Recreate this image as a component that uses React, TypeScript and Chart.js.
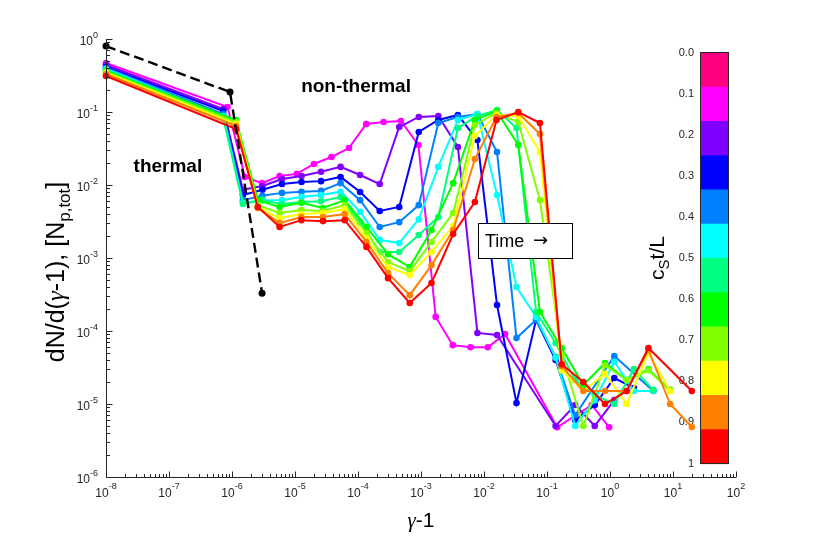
import { useEffect, useRef } from "react";
import { Chart, registerables } from "chart.js";

Chart.register(...registerables);

const SANS = '"Liberation Sans", Arial, Helvetica, sans-serif';
const SERIF = '"Liberation Serif", "Times New Roman", serif';
const INK = "#262626";

// gamma-1 bins: the first snapshot, the middle ones and the late ones use different binnings
const gammaBinsEarly = [1e-8, 8.5e-7, 1.6e-6, 3.0e-6, 5.7e-6, 1.07e-5, 2.0e-5, 3.8e-5, 7.2e-5, 1.35e-4, 2.55e-4, 4.8e-4, 9.1e-4, 1.71e-3, 3.2e-3, 6.1e-3, 1.15e-2, 2.16e-2, 4.1e-2, 7.7e-2, 0.145, 0.273, 0.514, 0.97];
const gammaBinsMid = [1e-8, 7.27e-7, 1.49e-6, 3.04e-6, 6.21e-6, 1.27e-5, 2.59e-5, 5.29e-5, 1.08e-4, 2.21e-4, 4.51e-4, 9.22e-4, 1.88e-3, 3.85e-3, 7.86e-3, 1.61e-2, 3.28e-2, 6.71e-2, 0.137, 0.28, 0.572, 1.17, 2.39, 4.88];
const gammaBinsLate = [1e-8, 1.16e-6, 2.57e-6, 5.69e-6, 1.26e-5, 2.78e-5, 6.14e-5, 1.36e-4, 3.0e-4, 6.63e-4, 1.47e-3, 3.24e-3, 7.16e-3, 1.58e-2, 3.5e-2, 7.73e-2, 0.171, 0.377, 0.834, 1.84, 4.07, 9.0, 19.9];

// dN/d(gamma-1) per snapshot (null = empty bin)
const specMagenta = [0.469, 0.117, 0.0129, 0.0106, 0.0133, 0.0142, 0.0194, 0.0242, 0.0321, 0.0685, 0.073, 0.0753, 0.0353, 1.56e-4, 6.4e-5, 6.0e-5, 6.0e-5, 9.1e-5, null, null, 4.8e-6, null, 9.7e-6, 4.8e-6];
const specPurple = [0.44, 0.11, 8.6e-3, 9.7e-3, 0.0121, 0.0133, 0.0152, 0.0177, 0.0137, 0.0103, 0.0623, 0.0855, 0.0882, 0.0332, 9.4e-5, 8.8e-5, null, null, 5.0e-6, 9.7e-6, 5.0e-6, 1.13e-5, null, null];
const specBlue = [0.413, 0.103, 7.3e-3, 8.6e-3, 0.0103, 0.011, 0.0113, 0.0129, 8.0e-3, 4.4e-3, 5.0e-3, 0.0532, 0.0777, 0.091, 0.0413, 2.27e-4, 1.03e-5, 1.42e-4, 4.0e-5, 6.0e-6, 9.7e-6, 2.27e-5, 1.66e-5, null];
const specAzure = [0.401, 0.0939, 6.2e-3, 7.1e-3, 7.8e-3, 8.1e-3, 8.3e-3, 0.0106, 6.2e-3, 2.66e-3, 3.1e-3, 5.3e-3, 0.0707, 0.0855, 0.0939, 0.0283, 8.0e-5, 1.42e-4, 4.4e-5, 7.0e-6, null, 4.55e-5, null, 1.51e-5];
const specCyan = [0.388, 0.0882, 5.7e-3, 6.2e-3, 6.2e-3, 6.9e-3, 7.3e-3, 8.1e-3, 4.3e-3, 1.77e-3, 1.6e-3, 3.4e-3, 0.0177, 0.0777, 0.0939, 7.3e-3, 4.0e-4, 1.56e-4, 4.3e-5, 5.0e-6, 1.13e-5, 3.8e-5, 1.51e-5, 1.51e-5];
const specSpring = [0.376, 0.0828, 5.5e-3, 6.2e-3, 5.5e-3, 5.85e-3, 6.0e-3, 6.85e-3, 3.1e-3, 1.21e-3, 1.21e-3, 2.07e-3, 3.65e-3, 0.0604, 0.0882, 0.106, 0.0604, 1.82e-4, 6.85e-5, 2.13e-5, 1.33e-5, 1.0e-5, 3.0e-5, 1.56e-5];
const specGreen = [0.364, 0.0777, 6.2e-3, 5.0e-3, 5.7e-3, 4.85e-3, 6.2e-3, 2.66e-3, 1.13e-3, 7.5e-4, 2.42e-3, 0.0106, 0.0777, 0.103, 0.0353, 1.82e-4, 5.85e-5, 1.82e-5, 3.65e-5, 2.13e-5, 3.0e-5, 1.56e-5, null];
const specLime = [0.353, 0.073, 5.3e-3, 4.13e-3, 4.55e-3, 4.4e-3, 5.3e-3, 2.2e-3, 8.8e-4, 6.6e-4, 1.66e-3, 4.13e-3, 0.0664, 0.0969, 0.073, 6.2e-3, 4.7e-5, 5.0e-6, 3.4e-5, 2.13e-5, 2.9e-5, 1.51e-5, null];
const specYellow = [0.342, 0.0685, 5.0e-3, 3.5e-3, 4.0e-3, 4.13e-3, 4.7e-3, 1.88e-3, 7.5e-4, 5.85e-4, 1.21e-3, 2.74e-3, 0.0469, 0.091, 0.0882, 0.0283, 2.9e-5, 1.51e-5, 2.6e-5, 1.0e-5, 5.0e-5, 1.51e-5, null];
const specOrange = [0.332, 0.0643, 4.85e-3, 3.0e-3, 3.65e-3, 3.65e-3, 4.0e-3, 1.66e-3, 6.2e-4, 3.1e-4, 8.0e-4, 2.42e-3, 0.0227, 0.0855, 0.0969, 0.05, 3.3e-5, 1.51e-5, 1.51e-5, 1.51e-5, 5.5e-5, 1.0e-5, 4.85e-6];
const specRed = [0.311, 0.0585, 5.0e-3, 2.66e-3, 3.3e-3, 3.2e-3, 3.3e-3, 1.42e-3, 5.3e-4, 2.42e-4, 4.55e-4, 2.13e-3, 5.85e-3, 0.0777, 0.1, 0.0707, 3.5e-5, 2.0e-5, 1.0e-5, 1.51e-5, 5.85e-5, null, 1.51e-5];

// initial (thermal) distribution, black dashed
const initialX = [1e-8, 9.3e-7, 3.0e-6];
const initialY = [0.8, 0.188, 3.3e-4];

const colorbarColors = ["#ff0080", "#ff00ff", "#8000ff", "#0000ff", "#0080ff", "#00ffff", "#00ff80", "#00ff00", "#80ff00", "#ffff00", "#ff8000", "#ff0000"];
const colorbarTicks = [0, 0.1, 0.2, 0.3, 0.4, 0.5, 0.6, 0.7, 0.8, 0.9, 1];
const colorbarTickLabels = ["0.0", "0.1", "0.2", "0.3", "0.4", "0.5", "0.6", "0.7", "0.8", "0.9", "1"];
const xExponents = [-8, -7, -6, -5, -4, -3, -2, -1, 0, 1, 2];
const yExponents = [-6, -5, -4, -3, -2, -1, 0];

const snapshots = [
  { bins: gammaBinsEarly, values: specMagenta, color: "#ff00ff" },
  { bins: gammaBinsMid, values: specPurple, color: "#8000ff" },
  { bins: gammaBinsMid, values: specBlue, color: "#0000ff" },
  { bins: gammaBinsMid, values: specAzure, color: "#0080ff" },
  { bins: gammaBinsMid, values: specCyan, color: "#00ffff" },
  { bins: gammaBinsMid, values: specSpring, color: "#00ff80" },
  { bins: gammaBinsLate, values: specGreen, color: "#00ff00" },
  { bins: gammaBinsLate, values: specLime, color: "#80ff00" },
  { bins: gammaBinsLate, values: specYellow, color: "#ffff00" },
  { bins: gammaBinsLate, values: specOrange, color: "#ff8000" },
  { bins: gammaBinsLate, values: specRed, color: "#ff0000" },
];

type Run = { t: string; font: string; dy?: number };

// draws a row of text pieces centred on cx
function drawRuns(ctx: CanvasRenderingContext2D, runs: Run[], cx: number, baseline: number) {
  let total = 0;
  const widths = runs.map((r) => {
    ctx.font = r.font;
    const w = ctx.measureText(r.t).width;
    total += w;
    return w;
  });
  let x = cx - total / 2;
  ctx.textAlign = "left";
  ctx.textBaseline = "alphabetic";
  runs.forEach((r, i) => {
    ctx.font = r.font;
    ctx.fillText(r.t, x, baseline + (r.dy || 0));
    x += widths[i];
  });
}

function drawPow(ctx: CanvasRenderingContext2D, exp: number, x: number, yBase: number, yExp: number, align: "center" | "right") {
  const e = String(exp);
  ctx.font = `12px ${SANS}`;
  const wb = ctx.measureText("10").width;
  ctx.font = `9px ${SANS}`;
  const we = ctx.measureText(e).width;
  const x0 = align === "center" ? x - (wb + we) / 2 : x - (wb + we);
  ctx.textAlign = "left";
  ctx.textBaseline = "alphabetic";
  ctx.font = `12px ${SANS}`;
  ctx.fillText("10", x0, yBase);
  ctx.font = `9px ${SANS}`;
  ctx.fillText(e, x0 + wb, yExp);
}

const decorPlugin = {
  id: "decor",
  beforeDatasetsDraw(chart: Chart) {
    const ctx = chart.ctx;
    ctx.save();
    // colorbar
    const cbX = 700.5, cbY = 52.5, cbW = 28, cbH = 411;
    const n = colorbarColors.length;
    colorbarColors.forEach((c, i) => {
      ctx.fillStyle = c;
      ctx.fillRect(cbX, cbY + (i * cbH) / n, cbW, cbH / n + 0.6);
    });
    ctx.strokeStyle = INK;
    ctx.lineWidth = 1;
    ctx.strokeRect(cbX, cbY, cbW, cbH);
    ctx.fillStyle = INK;
    ctx.font = `11px ${SANS}`;
    ctx.textAlign = "right";
    ctx.textBaseline = "middle";
    colorbarTicks.forEach((v, i) => ctx.fillText(colorbarTickLabels[i], 694, cbY + v * cbH));
    ctx.translate(664, 258);
    ctx.rotate(-Math.PI / 2);
    ctx.fillStyle = "#000";
    drawRuns(ctx, [
      { t: "c", font: `21px ${SANS}` },
      { t: "S", font: `15px ${SANS}`, dy: 5 },
      { t: "t/L", font: `21px ${SANS}` },
    ], 0, 0);
    ctx.restore();
  },
  afterDatasetsDraw(chart: Chart) {
    const ctx = chart.ctx;
    const { left, right, top, bottom } = chart.chartArea;
    const xs = chart.scales.x;
    const ys = chart.scales.y;
    ctx.save();
    ctx.strokeStyle = INK;
    ctx.lineWidth = 1;
    const ax = Math.round(left) + 0.5;
    const ay = Math.round(bottom) + 0.5;
    ctx.beginPath();
    ctx.moveTo(ax, top);
    ctx.lineTo(ax, ay);
    ctx.lineTo(right, ay);
    // x ticks (inward)
    xExponents.forEach((e) => {
      const px = Math.round(xs.getPixelForValue(10 ** e)) + 0.5;
      ctx.moveTo(px, ay);
      ctx.lineTo(px, ay - 6);
      if (e < xExponents[xExponents.length - 1]) {
        for (let m = 2; m <= 9; m++) {
          const mx = Math.round(xs.getPixelForValue(m * 10 ** e)) + 0.5;
          ctx.moveTo(mx, ay);
          ctx.lineTo(mx, ay - 3.5);
        }
      }
    });
    // y ticks (inward)
    yExponents.forEach((e) => {
      const py = Math.round(ys.getPixelForValue(10 ** e)) + 0.5;
      ctx.moveTo(ax, py);
      ctx.lineTo(ax + 6, py);
      if (e < yExponents[yExponents.length - 1]) {
        for (let m = 2; m <= 9; m++) {
          const my = Math.round(ys.getPixelForValue(m * 10 ** e)) + 0.5;
          ctx.moveTo(ax, my);
          ctx.lineTo(ax + 3.5, my);
        }
      }
    });
    ctx.stroke();

    ctx.fillStyle = INK;
    xExponents.forEach((e) => {
      const px = xs.getPixelForValue(10 ** e);
      drawPow(ctx, e, px, bottom + 20, bottom + 12, "center");
    });
    yExponents.forEach((e) => {
      const py = ys.getPixelForValue(10 ** e);
      drawPow(ctx, e, left - 8, py + 5.5, py - 1, "right");
    });

    // axis titles
    ctx.fillStyle = "#000";
    drawRuns(ctx, [
      { t: "\u03b3", font: `italic 21px ${SERIF}` },
      { t: "-1", font: `21px ${SANS}` },
    ], (left + right) / 2, bottom + 50);

    ctx.save();
    ctx.translate(64, (top + bottom) / 2 + 14);
    ctx.rotate(-Math.PI / 2);
    drawRuns(ctx, [
      { t: "dN/d(", font: `25px ${SANS}` },
      { t: "\u03b3", font: `italic 25px ${SERIF}` },
      { t: "-1), [N", font: `25px ${SANS}` },
      { t: "p,tot", font: `17px ${SANS}`, dy: 6 },
      { t: "]", font: `25px ${SANS}` },
    ], 0, 0);
    ctx.restore();

    // annotations
    ctx.fillStyle = "#000";
    ctx.font = `bold 19px ${SANS}`;
    ctx.textAlign = "center";
    ctx.textBaseline = "middle";
    ctx.fillText("thermal", xs.getPixelForValue(9.6e-8), ys.getPixelForValue(0.018));
    ctx.fillText("non-thermal", xs.getPixelForValue(9.3e-5), ys.getPixelForValue(0.22));

    const bx0 = xs.getPixelForValue(8.0e-3);
    const bx1 = xs.getPixelForValue(0.25);
    const by0 = ys.getPixelForValue(3.0e-3);
    const by1 = ys.getPixelForValue(1.0e-3);
    ctx.fillStyle = "#fff";
    ctx.fillRect(bx0, by0, bx1 - bx0, by1 - by0);
    ctx.strokeStyle = "#000";
    ctx.lineWidth = 1;
    ctx.strokeRect(Math.round(bx0) + 0.5, Math.round(by0) + 0.5, Math.round(bx1 - bx0), Math.round(by1 - by0));
    ctx.fillStyle = "#000";
    ctx.font = `18px ${SANS}`;
    ctx.textAlign = "left";
    ctx.textBaseline = "middle";
    ctx.fillText("Time", bx0 + 7, (by0 + by1) / 2 + 1);
    ctx.font = `18px "DejaVu Sans", ${SANS}`;
    ctx.fillText("\u2192", bx0 + 55, (by0 + by1) / 2 + 1);
    ctx.restore();
  },
};

const SpectrumChart = () => {
  const canvasRef = useRef<HTMLCanvasElement>(null);

  useEffect(() => {
    if (!canvasRef.current) return;
    const datasets: any[] = snapshots.map((s, i) => ({
      data: s.bins
        .map((x, k) => ({ x, y: s.values[k] }))
        .filter((p) => p.y !== null),
      borderColor: s.color,
      backgroundColor: s.color,
      pointBackgroundColor: s.color,
      pointBorderColor: s.color,
      borderWidth: 2,
      pointRadius: 3.3,
      pointBorderWidth: 0,
      tension: 0,
      clip: false,
      order: 20 - i,
    }));
    datasets.push({
      data: initialX.map((x, k) => ({ x, y: initialY[k] })),
      borderColor: "#000",
      backgroundColor: "#000",
      pointBackgroundColor: "#000",
      pointBorderColor: "#000",
      borderWidth: 2.4,
      borderDash: [10, 5],
      pointRadius: 3.5,
      pointBorderWidth: 0,
      tension: 0,
      clip: false,
      order: 0,
    });

    const chart = new Chart(canvasRef.current, {
      type: "line",
      data: { datasets },
      options: {
        animation: false,
        responsive: false,
        events: [],
        layout: { padding: { left: 106, right: 77, top: 39, bottom: 59 } },
        scales: {
          x: { type: "logarithmic", min: 1e-8, max: 100, display: false },
          y: { type: "logarithmic", min: 1e-6, max: 1, display: false },
        },
        plugins: { legend: { display: false }, tooltip: { enabled: false } },
      },
      plugins: [decorPlugin],
    });

    return () => {
      chart.destroy();
    };
  }, []);

  return <canvas ref={canvasRef} width={813} height={536}></canvas>;
};

export default function App() {
  return (
    <div style={{ position: "fixed", left: 0, top: 0, width: 813, height: 536, background: "#fff" }}>
      <SpectrumChart />
    </div>
  );
}
